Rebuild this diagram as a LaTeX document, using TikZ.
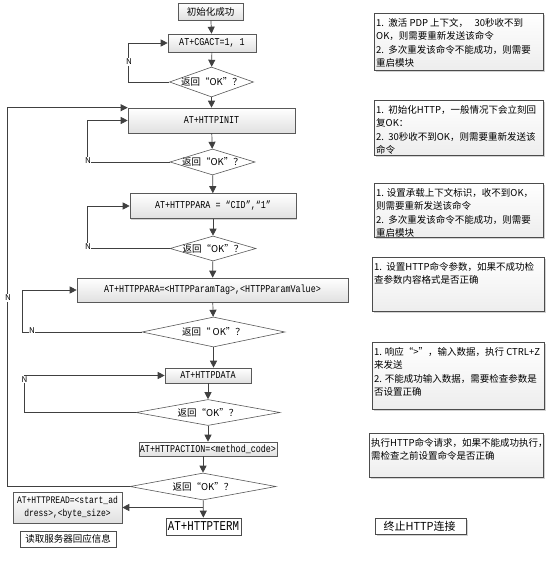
\documentclass[tikz,border=0pt]{standalone}
\usepackage{fontspec}
\newfontfamily\cjk{Noto Sans CJK SC}
\newfontfamily\amono[FakeStretch=0.8]{Liberation Mono}
\usetikzlibrary{shapes.geometric,arrows.meta,shadows,calc}
\begin{document}
\begin{tikzpicture}[x=1pt,y=-1pt,
  line/.style={draw=black!75, line width=0.7pt},
  arr/.style={line, -{Triangle[length=7pt,width=7pt]}},
  shad/.style={drop shadow={shadow xshift=1.3pt,shadow yshift=-1.3pt,opacity=0.35}},
  proc/.style={rectangle, draw=black!65, line width=0.6pt, top color=white, bottom color=black!12, shad, inner sep=1pt},
  plainbox/.style={rectangle, draw=black!70, line width=0.6pt, fill=white, shad, inner sep=1pt},
  dec/.style={diamond, draw=black!65, line width=0.6pt, fill=white, inner sep=0pt},
  note/.style={rectangle, draw=black!70, line width=0.6pt, top color=white, bottom color=black!7, shad, anchor=north west},
  notetext/.style={font=\cjk\fontsize{9.5}{13.5}\selectfont, align=left, anchor=north west, inner sep=1pt},
  nlab/.style={font=\cjk\fontsize{8}{8}\selectfont, fill=white, inner sep=0.6pt},
  cjkf/.style={font=\cjk\fontsize{9.5}{11}\selectfont},
  monof/.style={font=\amono\fontsize{10.5}{12}\selectfont},
  okl/.style={label={[cjkf]center:返回“OK”？}},
]
\useasboundingbox (0,0) rectangle (554,572);

% ---------- flowchart nodes ----------
\node[proc, cjkf, minimum width=65pt, minimum height=17pt] (start) at (210.5,11.5) {初始化成功};
\node[proc, monof, minimum width=88pt, minimum height=18pt] (cgact) at (212,43) {AT+CGACT=1, 1};
\node[dec, okl, minimum width=84pt, minimum height=30pt] (d1) at (211.5,82) {};
\node[proc, monof, minimum width=167pt, minimum height=25pt] (init) at (211.5,120.5) {AT+HTTPINIT};
\node[dec, okl, minimum width=85pt, minimum height=26pt] (d2) at (212.5,162) {};
\node[proc, monof, minimum width=166pt, minimum height=25pt] (cid) at (213,206) {AT+HTTPPARA = “CID”,“1”};
\node[dec, okl, minimum width=86pt, minimum height=25pt] (d3) at (213,248.5) {};
\node[proc, monof, minimum width=271pt, minimum height=24pt] (param) at (212.5,290) {AT+HTTPPARA=<HTTPParamTag>,<HTTPParamValue>};
\node[dec, minimum width=143pt, minimum height=30pt, label={[cjkf]center:返回“ OK”？}] (d4) at (213.5,332) {};
\node[proc, monof, minimum width=86pt, minimum height=15pt] (data) at (208,375.5) {AT+HTTPDATA};
\node[dec, okl, minimum width=144pt, minimum height=26pt] (d5) at (208,412.5) {};
\node[proc, monof, minimum width=138pt, minimum height=14pt] (action) at (208,449) {AT+HTTPACTION=<method\_code>};
\node[dec, okl, minimum width=146pt, minimum height=27pt] (d6) at (203,486.5) {};
\node[plainbox, font=\amono\fontsize{13.5}{14}\selectfont, minimum width=75pt, minimum height=17pt] (term) at (203.5,526.5) {AT+HTTPTERM};
\node[proc, font=\amono\fontsize{10}{13}\selectfont, align=center, minimum width=109pt, minimum height=31pt] (read) at (67.5,507.5) {AT+HTTPREAD=<start\_ad\\dress>,<byte\_size>};
\node[plainbox, cjkf, minimum width=96pt, minimum height=16pt] (readinfo) at (68,539) {读取服务器回应信息};

% ---------- connectors ----------
\draw[arr] (start) -- (cgact);
\draw[arr] (cgact) -- (d1);
\draw[arr] (d1.west) -- ++(-41,0) |- (cgact.west);
\draw[arr] (d1) -- (init);
\draw[arr] (init) -- (d2);
\draw[arr] (d2.west) -- ++(-82,0) |- (init.west);
\draw[arr] (d2) -- (cid);
\draw[arr] (cid) -- (d3);
\draw[arr] (d3.west) -- ++(-82,0) |- (cid.west);
\draw[arr] (d3) -- (param);
\draw[arr] (param) -- (d4);
\draw[arr] (d4.west) -- ++(-119,0) |- (param.west);
\draw[arr] (d4.south) -- (d4.south |- data.north);
\draw[arr] (data) -- (d5);
\draw[arr] (d5.west) -- ++(-111,0) |- (data.west);
\draw[arr] (d5) -- (action);
\draw[arr] (action.south -| d6.north) -- (d6.north);
\draw[arr] (d6.west) -- ++(-122,0) |- (init.north west);
\draw[arr] (d6) -- (term);
\coordinate (split) at (d6.south |- read.east);
\draw[arr] (split) -- (read.east);

% ---------- N labels ----------
\node[nlab] (na) at (129,62) {N};
\node[nlab] (nb) at (88,161) {N};
\node[nlab] (nc) at (88,247) {N};
\node[nlab] (nd) at (32,331) {N};
\node[nlab] (ne) at (24.5,379.5) {N};
\node[nlab] (nf) at (8,298) {N};

% ---------- notes ----------
\node[note, minimum width=169pt, minimum height=57pt] (n1) at (374,13) {};
\node[notetext] (t1) at ([xshift=1pt,yshift=-4pt]n1.north west) {1.\ \ 激活 PDP 上下文，\ \ \ 30秒收不到\\OK，则需要重新发送该命令\\2.\ \ 多次重发该命令不能成功，则需要\\重启模块};
\node[note, minimum width=169pt, minimum height=55pt] (n2) at (374,100) {};
\node[notetext] (t2) at ([xshift=1pt,yshift=-4pt]n2.north west) {1.\ \ 初始化HTTP，一般情况下会立刻回\\复OK：\\2.\ \ 30秒收不到OK，则需要重新发送该\\命令};
\node[note, minimum width=169pt, minimum height=54pt] (n3) at (374,183) {};
\node[notetext] (t3) at ([xshift=1pt,yshift=-4pt]n3.north west) {1. 设置承载上下文标识，收不到OK，\\则需要重新发送该命令\\2.\ \ 多次重发该命令不能成功，则需要\\重启模块};
\node[note, minimum width=172pt, minimum height=54pt] (n4) at (372,257) {};
\node[notetext] (t4) at ([xshift=1pt,yshift=-4pt]n4.north west) {1.\ \ 设置HTTP命令参数，如果不成功检\\查参数内容格式是否正确};
\node[note, minimum width=172pt, minimum height=67pt] (n5) at (372,342) {};
\node[notetext] (t5) at ([xshift=1pt,yshift=-4pt]n5.north west) {1. 响应“>”，输入数据，执行 CTRL+Z\\来发送\\2. 不能成功输入数据，需要检查参数是\\否设置正确};
\node[note, minimum width=174pt, minimum height=44pt] (n6) at (369,433) {};
\node[notetext] (t6) at ([xshift=1pt,yshift=-4pt]n6.north west) {执行HTTP命令请求，如果不能成功执行，\\需检查之前设置命令是否正确};
\node[plainbox, font=\cjk\fontsize{11}{12}\selectfont, minimum width=91pt, minimum height=16pt, anchor=north west, inner sep=0pt] (n7) at (375,518) {终止HTTP连接\ \ };
\end{tikzpicture}
\end{document}
